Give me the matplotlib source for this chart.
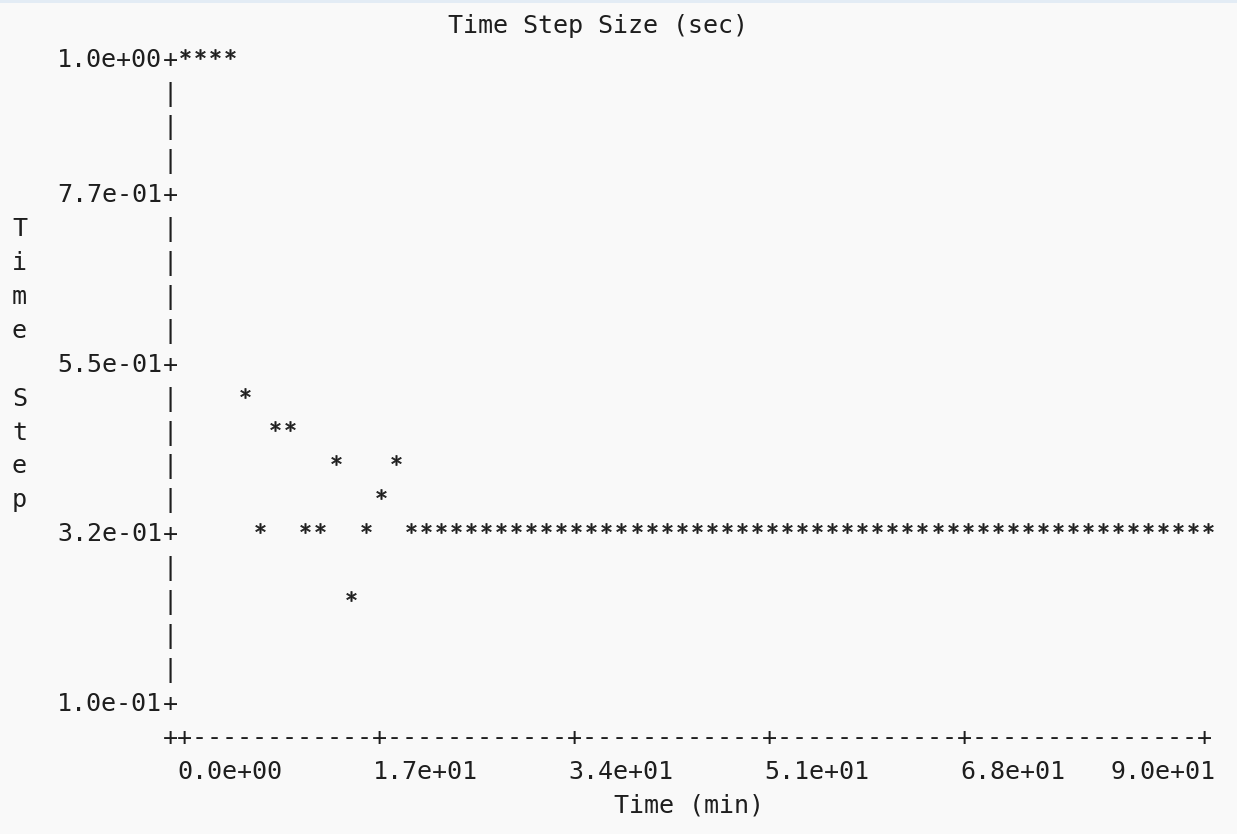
import matplotlib
matplotlib.use("Agg")
import matplotlib.pyplot as plt
from matplotlib.textpath import TextPath
from matplotlib.font_manager import FontProperties
from matplotlib.path import Path
from matplotlib.patches import Rectangle

# Data (one sample per text column of the original plot)
time_min = [0.00, 1.32, 2.65, 3.97, 5.29, 6.62, 7.94, 9.26, 10.59, 11.91,
            13.24, 14.56, 15.88, 17.21, 18.53, 19.85, 21.18, 22.50, 23.82, 25.15,
            26.47, 27.79, 29.12, 30.44, 31.76, 33.09, 34.41, 35.74, 37.06, 38.38,
            39.71, 41.03, 42.35, 43.68, 45.00, 46.32, 47.65, 48.97, 50.29, 51.62,
            52.94, 54.26, 55.59, 56.91, 58.24, 59.56, 60.88, 62.21, 63.53, 64.85,
            66.18, 67.50, 68.82, 70.15, 71.47, 72.79, 74.12, 75.44, 76.76, 78.09,
            79.41, 80.74, 82.06, 83.38, 84.71, 86.03, 87.35, 88.68, 90.00]
step_sec = [1.000, 1.000, 1.000, 1.000, 0.526, 0.337, 0.479, 0.479, 0.337, 0.337,
            0.432, 0.242, 0.337, 0.384, 0.432, 0.337, 0.337, 0.337, 0.337, 0.337,
            0.337, 0.337, 0.337, 0.337, 0.337, 0.337, 0.337, 0.337, 0.337, 0.337,
            0.337, 0.337, 0.337, 0.337, 0.337, 0.337, 0.337, 0.337, 0.337, 0.337,
            0.337, 0.337, 0.337, 0.337, 0.337, 0.337, 0.337, 0.337, 0.337, 0.337,
            0.337, 0.337, 0.337, 0.337, 0.337, 0.337, 0.337, 0.337, 0.337, 0.337,
            0.337, 0.337, 0.337, 0.337, 0.337, 0.337, 0.337, 0.337, 0.337]

xtick_vals = [0.0, 17.21, 34.41, 51.62, 68.82, 90.0]
xtick_labels = ['0.0e+00', '1.7e+01', '3.4e+01', '5.1e+01', '6.8e+01', '9.0e+01']
ytick_vals = [1.0, 0.811, 0.574, 0.337, 0.1]
ytick_labels = ['1.0e+00', '7.7e-01', '5.5e-01', '3.2e-01', '1.0e-01']
title = 'Time Step Size (sec)'
xlabel = 'Time (min)'
ylabel = 'Time Step'

# character grid of the text plot (pixels)
W, H = 1237, 834
CW, RH = 15.05, 33.9
X0, Y0 = 64.6, 57.5
FS = 18
BASE = 0.3645 * FS * 100 / 72
MONO = 'DejaVu Sans Mono'
INK = '#1e1e1e'


def cx(c):
    return X0 + c * CW


def cy(r):
    return H - (Y0 + r * RH)


def put(c, r, s, ha='left'):
    x = cx(c) - CW / 2 if ha == 'left' else cx(c) + CW / 2
    fig.text(x / W, (cy(r) - BASE) / H, s, ha=ha, va='baseline',
             family=MONO, fontsize=FS, color=INK, transform=fig.transFigure)


fig = plt.figure(figsize=(W / 100, H / 100), dpi=100, facecolor='#f9f9f9')
fig.add_artist(Rectangle((0, 1 - 3 / H), 1, 3 / H, transform=fig.transFigure,
                         color='#e3ecf5', lw=0))

ax = fig.add_axes([cx(8) / W, cy(19) / H, (cx(76) - cx(8)) / W, (cy(0) - cy(19)) / H])
ax.set_xlim(0, 90)
ax.set_ylim(0.1, 1.0)
ax.axis('off')

# asterisk marker, drawn a little above the point like the text glyph
tp = TextPath((0, 0), '*', prop=FontProperties(family=MONO))
ext = tp.get_extents()
v = tp.vertices - [ext.x0 + ext.width / 2, ext.y0 + ext.height / 2]
v = v * (10.0 / max(ext.width, ext.height))
v[:, 1] += 4.0
star = Path(v, tp.codes)
ms = 2 * abs(v).max() * 0.72
ax.plot(time_min, step_sec, ls='none', marker=star, ms=ms, color=INK, mew=0.5,
        clip_on=False)

# tick rows / columns from the axes scale
xcols = [round((ax.transData.transform((t, 0.1))[0] - X0) / CW) for t in xtick_vals]
yrows = [round((H - ax.transData.transform((0, s))[1] - Y0) / RH) for s in ytick_vals]

# y axis
for r in range(20):
    put(7, r, '+' if r in yrows else '|')
for r, lab in zip(yrows, ytick_labels):
    put(6, r, lab, ha='right')

# x axis
line = ''.join('+' if (c == 7 or c in xcols) else '-' for c in range(7, 77))
put(7, 20, line)
for i, (c, lab) in enumerate(zip(xcols, xtick_labels)):
    if i == len(xcols) - 1:
        put(c, 21, lab, ha='right')
    else:
        put(c, 21, lab)

put(37, 22, xlabel)
put(26, -1, title)
for i, ch in enumerate(ylabel):
    if ch != ' ':
        put(-3, 5 + i, ch)

fig.savefig('out.png', dpi=100, facecolor=fig.get_facecolor())
